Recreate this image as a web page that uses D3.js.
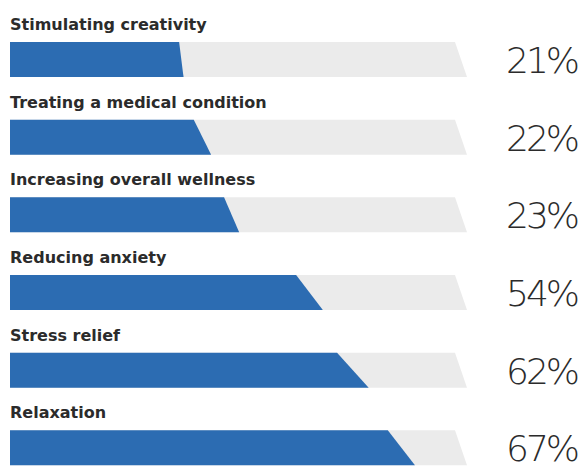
<!DOCTYPE html>
<html>
<head>
  <meta charset="utf-8" />
  <title>Reasons</title>
  <script src="https://d3js.org/d3.v7.min.js"></script>
  <style>
    body { margin: 0; background: #fff; }
  </style>
</head>
<body>
  <script>
    // categories and the reported shares
    const reasons = ["Stimulating creativity", "Treating a medical condition", "Increasing overall wellness",
      "Reducing anxiety", "Stress relief", "Relaxation"];
    const shares = [21, 22, 23, 54, 62, 67];
    // how far the blue fill reaches along the track as drawn (top / bottom edge, % of track)
    const fillTop = [38, 41.3, 48.1, 64.3, 73.5, 84.9];
    const fillBottom = [39, 45.2, 51.5, 70.3, 80.6, 91];

    const width = 581;
    const height = 466;
    const barH = 35;
    const trackSlant = 12;

    const data = reasons.map((r, i) => ({ r: r, v: shares[i], t: fillTop[i], b: fillBottom[i] }));

    let svg = d3.select("body")
      .append("svg")
      .attr("width", width)
      .attr("height", height);

    let scaleY = d3.scaleBand()
      .domain(reasons)
      .range([1, 467])
      .padding(0);

    let scaleX = d3.scaleLinear()
      .domain([0, 100])
      .range([10, 455]);

    let rows = svg.selectAll("g.row")
      .data(data)
      .enter()
      .append("g")
      .attr("class", "row")
      .attr("transform", d => `translate(0, ${scaleY(d.r) + 41})`);

    // grey track
    rows.append("path")
      .attr("d", `M${scaleX(0)},0 L${scaleX(100)},0 L${scaleX(100) + trackSlant},${barH} L${scaleX(0)},${barH} Z`)
      .attr("fill", "#ebebeb");

    // blue fill
    rows.append("path")
      .attr("d", d => `M${scaleX(0)},0 L${scaleX(d.t)},0 L${scaleX(d.b)},${barH} L${scaleX(0)},${barH} Z`)
      .attr("fill", "#2c6cb2");

    rows.append("text")
      .attr("x", 10)
      .attr("y", -12)
      .style("font-family", "DejaVu Sans")
      .style("font-weight", "bold")
      .style("font-size", "16px")
      .attr("fill", "#2b2b2b")
      .text(d => d.r);

    rows.append("text")
      .attr("x", 577)
      .attr("y", 31)
      .attr("text-anchor", "end")
      .style("font-family", "DejaVu Sans")
      .style("font-weight", "200")
      .style("font-size", "36px")
      .style("letter-spacing", "-3px")
      .attr("fill", "#2b2b2b")
      .text(d => d.v + "%");
  </script>
</body>
</html>
